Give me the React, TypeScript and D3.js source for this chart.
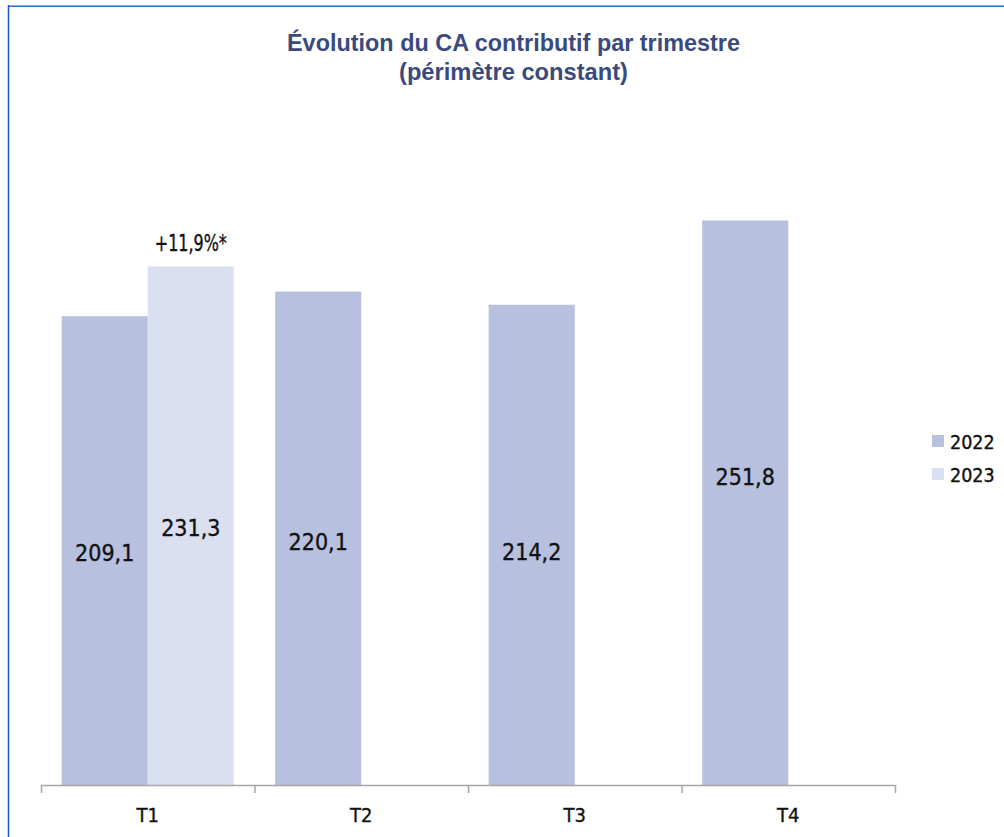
import React from "react";
import * as d3 from "d3";

const categories = ["T1", "T2", "T3", "T4"];
const series = ["2022", "2023"];
const values2022 = [209.1, 220.1, 214.2, 251.8];
const values2023: (number | null)[] = [231.3, null, null, null];
const labels2022 = ["209,1", "220,1", "214,2", "251,8"];
const labels2023 = ["231,3", "", "", ""];
const labelFrac2022 = [0.497, 0.494, 0.487, 0.547];
const labelFrac2023 = [0.497, 0, 0, 0];
const annotation = "+11,9%*";
const titleLines = ["Évolution du CA contributif par trimestre", "(périmètre constant)"];
const titleWidths = [453, 229];
const colors = ["#b7c1df", "#dbe0f0"];

const W = 1004;
const H = 837;
const left = 41;
const right = 895;
const baseY = 785;

export default function App() {
  const x = d3.scaleBand<string>().domain(categories).range([left, right]).paddingInner(0).paddingOuter(0);
  const inner = d3.scaleBand<string>().domain(series).range([0, x.bandwidth()]).paddingOuter(0.24).paddingInner(0);
  const y = d3.scaleLinear().domain([0, 300]).range([baseY, baseY - 672.6]);
  const numFont = "'DejaVu Sans Condensed', 'DejaVu Sans', sans-serif";
  const ticks = [...categories.map((c) => x(c)!), right];
  const numStyle = { fontFamily: numFont, fontSize: 23, fill: "#111", stroke: "#111", strokeWidth: 0.35 } as const;

  return (
    <svg width={W} height={H} style={{ position: "absolute", left: 0, top: 0 }}>
      <rect width={W} height={H} fill="#ffffff" />
      <line x1={8} x2={W} y1={5.5} y2={5.5} stroke="#8fb0ea" strokeWidth={1} />
      <line x1={8} x2={W} y1={6.5} y2={6.5} stroke="#2f6ad8" strokeWidth={1} />
      <line x1={8.5} x2={8.5} y1={5} y2={H} stroke="#1a56d6" strokeWidth={1.5} />
      {titleLines.map((t, i) => (
        <text key={i} x={513.5} y={51 + i * 29} textAnchor="middle" fontFamily="'Liberation Sans', Arial, sans-serif"
          fontWeight="bold" fontSize={24} fill="#3a4a7c" textLength={titleWidths[i]} lengthAdjust="spacingAndGlyphs">{t}</text>
      ))}
      {categories.map((c, i) => {
        const x0 = x(c)!;
        const v1 = values2022[i];
        const v2 = values2023[i];
        return (
          <g key={c}>
            <rect x={x0 + inner("2022")!} y={y(v1)} width={inner.bandwidth()} height={baseY - y(v1)} fill={colors[0]} />
            <text x={x0 + inner("2022")! + inner.bandwidth() / 2} y={y(v1 * labelFrac2022[i]) + 8.5} textAnchor="middle"
              {...numStyle}>{labels2022[i]}</text>
            {v2 != null && (
              <g>
                <rect x={x0 + inner("2023")!} y={y(v2)} width={inner.bandwidth()} height={baseY - y(v2)} fill={colors[1]} />
                <text x={x0 + inner("2023")! + inner.bandwidth() / 2} y={y(v2 * labelFrac2023[i]) + 8.5} textAnchor="middle"
                  {...numStyle}>{labels2023[i]}</text>
                <text x={x0 + inner("2023")! + inner.bandwidth() / 2} y={y(v2) - 15} textAnchor="middle"
                  {...numStyle} fontSize={23} textLength={72} lengthAdjust="spacingAndGlyphs">{annotation}</text>
              </g>
            )}
            <text x={x0 + x.bandwidth() / 2} y={822} textAnchor="middle" {...numStyle} fontSize={20}>{c}</text>
          </g>
        );
      })}
      <line x1={left} x2={right} y1={baseY + 0.5} y2={baseY + 0.5} stroke="#a6a6a6" strokeWidth={1.5} />
      {ticks.map((t, i) => (
        <line key={i} x1={t + 0.5} x2={t + 0.5} y1={baseY} y2={baseY + 8} stroke="#a6a6a6" strokeWidth={1.5} />
      ))}
      {series.map((s, i) => (
        <g key={s}>
          <rect x={932} y={435 + i * 33} width={12} height={12} fill={colors[i]} />
          <text x={950} y={449 + i * 33} {...numStyle} fontSize={19.5}>{s}</text>
        </g>
      ))}
    </svg>
  );
}
